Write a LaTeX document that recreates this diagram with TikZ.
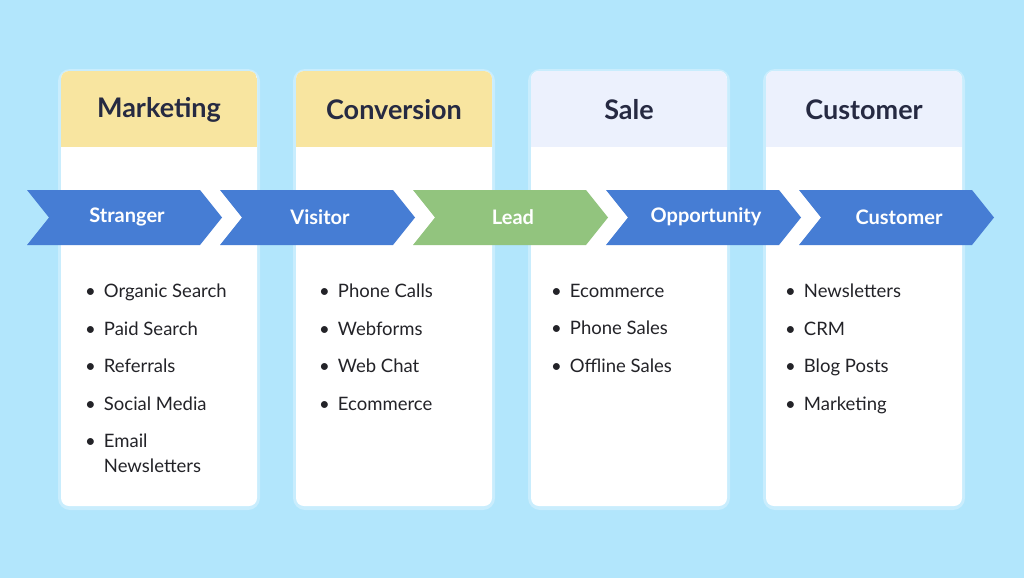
\documentclass[tikz,border=0pt]{standalone}
\usepackage{fontspec}
\setmainfont{Lato}
\usetikzlibrary{positioning}
\definecolor{bgblue}{RGB}{178,230,252}
\definecolor{hdyellow}{RGB}{248,229,160}
\definecolor{hdlav}{RGB}{236,241,253}
\definecolor{chblue}{RGB}{70,125,212}
\definecolor{chgreen}{RGB}{146,196,126}
\definecolor{titlecol}{RGB}{38,42,66}
\definecolor{itemcol}{RGB}{35,35,40}
\tikzset{
    card/.style = {fill=white, rounded corners=8pt},
    headtext/.style = {font=\fontsize{27}{29}\selectfont\bfseries, text=titlecol},
    chevtext/.style = {font=\fontsize{20}{22}\selectfont\bfseries, text=white},
    itemlist/.style = {font=\fontsize{18.5}{25}\selectfont, text=itemcol, align=left, anchor=north west, inner sep=0pt},
    chevron/.pic = {
      \fill (0,0) -- (173,0) -- (195,-27.5) -- (173,-55) -- (0,-55) -- (22,-27.5) -- cycle;
    }
}
\begin{document}
\begin{tikzpicture}[x=1pt, y=1pt]
    \fill[bgblue] (0,0) rectangle (1024,-578);
    \useasboundingbox (0,0) rectangle (1024,-578);

    % cards and headers
    \foreach \cx/\hcol/\name/\title in {61/hdyellow/mkt/Marketing, 296/hdyellow/cnv/Conversion,
        531/hdlav/sale/Sale, 766/hdlav/cust/Customer} {
      \fill[white!30!bgblue, rounded corners=12pt] (\cx-3,-69) rectangle (\cx+199,-510);
      \fill[card] (\cx,-71) rectangle (\cx+196,-506);
      \begin{scope}
        \clip[rounded corners=8pt] (\cx,-71) rectangle (\cx+196,-160);
        \fill[\hcol] (\cx,-71) rectangle (\cx+196,-147);
      \end{scope}
      \node [name=\name, headtext] at (\cx+98,-110) {\title};
    }

    % chevrons
    \foreach \i/\col/\name/\label in {0/chblue/strg/Stranger, 1/chblue/vist/Visitor, 2/chgreen/lead/Lead,
        3/chblue/oppt/Opportunity, 4/chblue/cstm/Customer} {
      \path[fill=\col] (27+193*\i,-190) pic {chevron};
      \node [name=\name, chevtext] at (27+193*\i+100,-217) {\label};
    }

    % item lists
    \node [name=list1, itemlist] at (85,-284) {%
      \textbullet\hspace{8pt}Organic Search\\[12.5pt] \textbullet\hspace{8pt}Paid Search\\[12.5pt]
      \textbullet\hspace{8pt}Referrals\\[12.5pt] \textbullet\hspace{8pt}Social Media\\[12.5pt]
      \textbullet\hspace{8pt}Email\\ \hphantom{\textbullet\hspace{8pt}}Newsletters};
    \node [name=list2, itemlist] at (319,-284) {%
      \textbullet\hspace{8pt}Phone Calls\\[12.5pt] \textbullet\hspace{8pt}Webforms\\[12.5pt]
      \textbullet\hspace{8pt}Web Chat\\[12.5pt] \textbullet\hspace{8pt}Ecommerce};
    \node [name=list3, itemlist] at (551,-284) {%
      \textbullet\hspace{8pt}Ecommerce\\[12.5pt] \textbullet\hspace{8pt}Phone Sales\\[12.5pt]
      \textbullet\hspace{8pt}Offline Sales};
    \node [name=list4, itemlist] at (785,-284) {%
      \textbullet\hspace{8pt}Newsletters\\[12.5pt] \textbullet\hspace{8pt}CRM\\[12.5pt]
      \textbullet\hspace{8pt}Blog Posts\\[12.5pt] \textbullet\hspace{8pt}Marketing};
\end{tikzpicture}
\end{document}
